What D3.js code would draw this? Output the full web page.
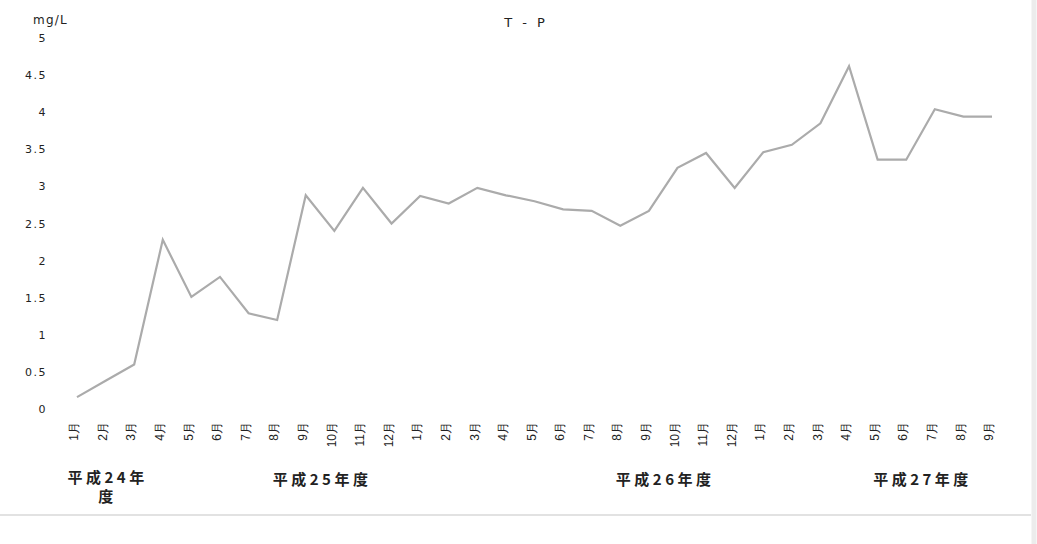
<!DOCTYPE html>
<html><head><meta charset="utf-8">
<script src="https://cdn.jsdelivr.net/npm/d3@7"></script>
<style>body{margin:0;background:#fff;} svg{display:block;font-family:"Noto Sans CJK JP","DejaVu Sans",sans-serif;}</style>
</head><body>
<svg id="chart" width="1037" height="544"></svg>
<script>
const months = ["1月","2月","3月","4月","5月","6月","7月","8月","9月","10月","11月","12月","1月","2月","3月","4月","5月","6月","7月","8月","9月","10月","11月","12月","1月","2月","3月","4月","5月","6月","7月","8月","9月"];
const values = [0.16,0.38,0.6,2.28,1.51,1.78,1.29,1.2,2.88,2.4,2.98,2.5,2.87,2.77,2.98,2.88,2.8,2.69,2.67,2.47,2.67,3.25,3.45,2.98,3.46,3.56,3.85,4.62,3.36,3.36,4.04,3.94,3.94];
const yTicks = [0,0.5,1,1.5,2,2.5,3,3.5,4,4.5,5];
const fiscalYears = ["平成24年度","平成25年度","平成26年度","平成27年度"];
const fyStart = [0,3,15,27];
const fyEnd = [2,14,26,32];
const title = "T - P";
const unit = "mg/L";

const svg = d3.select("#chart");
const idx = months.map((d,i)=>i);
const x = d3.scalePoint().domain(idx).range([77,992]);
const y = d3.scaleLinear().domain([0,5]).range([409,38]);

// frame
svg.append("line").attr("x1",0).attr("x2",1031).attr("y1",515).attr("y2",515).attr("stroke","#e2e2e2").attr("stroke-width",2);
svg.append("line").attr("x1",1034).attr("x2",1034).attr("y1",0).attr("y2",544).attr("stroke","#ececec").attr("stroke-width",5);

// title
svg.append("text").attr("x",526).attr("y",27).attr("text-anchor","middle").attr("font-size",13).attr("letter-spacing",3).attr("fill","#222").attr("font-family","DejaVu Sans, sans-serif").text(title);
svg.append("text").attr("x",33).attr("y",24).attr("font-size",12).attr("letter-spacing",1.2).attr("fill","#222").attr("font-family","DejaVu Sans, sans-serif").text(unit);

// y axis
const yAxis = d3.axisLeft(y).tickValues(yTicks).tickSize(0).tickPadding(0).tickFormat(d=>String(d));
const gy = svg.append("g").attr("transform","translate(47,0)").call(yAxis);
gy.select(".domain").remove();
gy.selectAll("text").attr("font-size",11).attr("letter-spacing",1.5).attr("fill","#222").attr("font-family","DejaVu Sans, sans-serif");

// x axis labels
const xAxis = d3.axisBottom(x).tickSize(0).tickPadding(0).tickFormat(i=>months[i]);
const gx = svg.append("g").attr("transform","translate(0,422)").call(xAxis);
gx.select(".domain").remove();
gx.selectAll("text")
  .attr("font-size",12).attr("fill","#222")
  .attr("text-anchor","end")
  .attr("transform","rotate(-90)")
  .attr("x",0).attr("y",0).attr("dy","0.35em");
gx.selectAll(".tick").attr("transform",d=>`translate(${x(d)-3},0) `);

// fiscal year labels
fiscalYears.forEach((fy,k)=>{
  const cx = (x(fyStart[k])+x(fyEnd[k]))/2;
  const t = svg.append("text").attr("text-anchor","middle").attr("font-size",15).attr("letter-spacing",3.5).attr("font-weight","bold").attr("fill","#222");
  if(k===0){
    t.append("tspan").attr("x",cx+2).attr("y",483).text(fy.slice(0,5));
    t.append("tspan").attr("x",cx+2).attr("y",502).text(fy.slice(5));
  } else {
    t.attr("x",cx+2).attr("y",485).text(fy);
  }
});

// line
const line = d3.line().x((d,i)=>x(i)).y(d=>y(d));
svg.append("path").datum(values).attr("d",line).attr("fill","none").attr("stroke","#ababab").attr("stroke-width",2.2).attr("stroke-linejoin","miter");
</script>
</body></html>
